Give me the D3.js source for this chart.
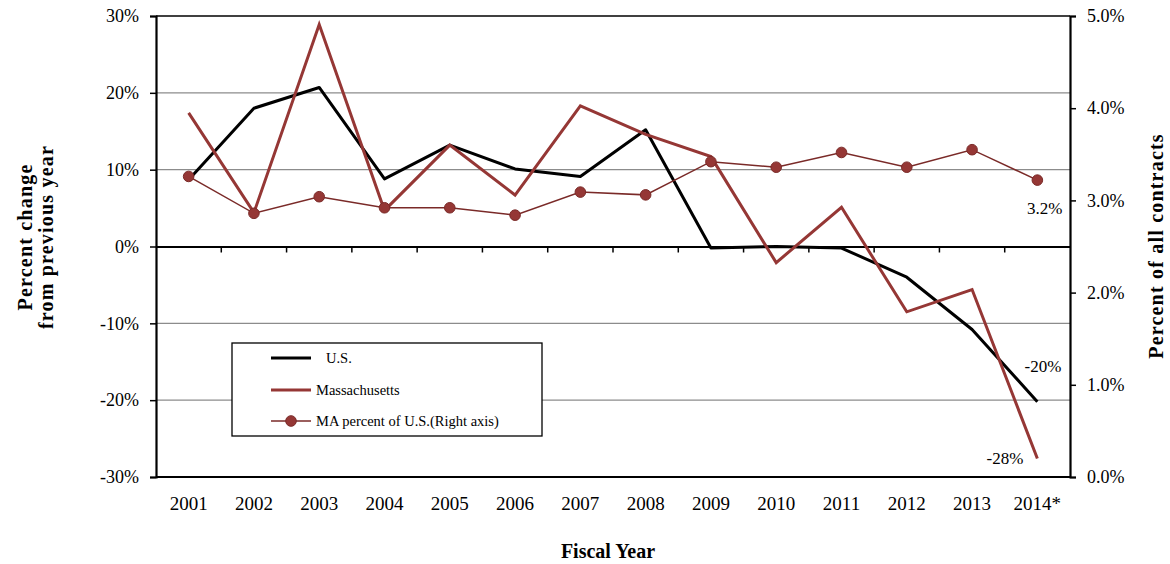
<!DOCTYPE html>
<html>
<head>
<meta charset="utf-8">
<script src="https://cdn.jsdelivr.net/npm/d3@7"></script>
<style>
  body { margin: 0; background: #fff; }
  svg, svg text { font-family: "Liberation Serif", "DejaVu Serif", serif; }
</style>
</head>
<body>
<svg id="chart"></svg>
<script>
// data
const years = ["2001","2002","2003","2004","2005","2006","2007","2008","2009","2010","2011","2012","2013","2014*"];
const usChange = [8.7, 18.0, 20.7, 8.8, 13.2, 10.1, 9.1, 15.2, -0.2, 0.0, -0.2, -4.0, -10.8, -20.2];
const maChange = [17.4, 4.4, 28.9, 4.7, 13.2, 6.7, 18.3, 14.6, 11.7, -2.1, 5.1, -8.5, -5.6, -27.6];
const maShare = [3.26, 2.86, 3.04, 2.92, 2.92, 2.84, 3.09, 3.06, 3.42, 3.36, 3.52, 3.36, 3.55, 3.22];
const leftTicks = [-30, -20, -10, 0, 10, 20, 30];
const rightTicks = [0, 1, 2, 3, 4, 5];
const legendItems = ["U.S.", "Massachusetts", "MA percent of U.S.(Right axis)"];

const red = "#953735";
const W = 1170, H = 564;
const margin = {top: 16, right: 100, bottom: 87, left: 156};
const width = W - margin.left - margin.right;
const height = H - margin.top - margin.bottom;

const svg = d3.select("#chart").attr("width", W).attr("height", H);
const g = svg.append("g").attr("transform", `translate(${margin.left},${margin.top})`);

const x = d3.scaleBand().domain(years).range([0, width]);
const xc = d => x(d) + x.bandwidth() / 2;
const yL = d3.scaleLinear().domain([-30, 30]).range([height, 0]);
const yR = d3.scaleLinear().domain([0, 5]).range([height, 0]);

// gridlines
g.append("g").selectAll("line")
    .data(leftTicks.filter(t => t !== 0 && Math.abs(t) !== 30))
    .enter().append("line")
    .attr("x1", 0).attr("x2", width)
    .attr("y1", d => yL(d)).attr("y2", d => yL(d))
    .attr("stroke", "#8c8c8c").attr("stroke-width", 1.3);

// frame top / bottom
g.append("line").attr("x1", 0).attr("x2", width).attr("y1", 0).attr("y2", 0)
    .attr("stroke", "#000").attr("stroke-width", 1.5);
g.append("line").attr("x1", 0).attr("x2", width).attr("y1", height).attr("y2", height)
    .attr("stroke", "#000").attr("stroke-width", 2);

// left axis
const leftAxis = g.append("g")
    .call(d3.axisLeft(yL).tickValues(leftTicks).tickFormat(d => d + "%").tickSize(6).tickPadding(11));
// right axis
const rightAxis = g.append("g").attr("transform", `translate(${width},0)`)
    .call(d3.axisRight(yR).tickValues(rightTicks).tickFormat(d => d.toFixed(1) + "%").tickSize(6).tickPadding(11));
// x axis on the zero line
const xAxis = g.append("g").attr("transform", `translate(0,${yL(0)})`)
    .call(d3.axisBottom(x).tickSize(0).tickFormat(""));
xAxis.selectAll(".tick").remove();
xAxis.append("g").selectAll("line")
    .data(years.slice(1))
    .enter().append("line")
    .attr("x1", d => x(d)).attr("x2", d => x(d))
    .attr("y1", 0).attr("y2", 6)
    .attr("stroke", "#000").attr("stroke-width", 1.5);

[leftAxis, rightAxis, xAxis].forEach(a => {
    a.attr("font-family", null).attr("font-size", null);
    a.select(".domain").attr("stroke", "#000").attr("stroke-width", 2.2);
    a.selectAll(".tick line").attr("stroke", "#000").attr("stroke-width", 1.5);
    a.selectAll(".tick text").attr("font-size", 18).attr("fill", "#000");
});

// year labels below plot
g.append("g").selectAll("text")
    .data(years)
    .enter().append("text")
    .attr("x", xc)
    .attr("y", height + 33)
    .attr("text-anchor", "middle")
    .attr("font-size", 19)
    .text(d => d);

// lines
const lineL = vals => d3.line().x((d, i) => xc(years[i])).y(d => yL(d))(vals);
g.append("path").attr("d", lineL(usChange))
    .attr("fill", "none").attr("stroke", "#000").attr("stroke-width", 3).attr("stroke-linejoin", "round");
g.append("path").attr("d", lineL(maChange))
    .attr("fill", "none").attr("stroke", red).attr("stroke-width", 3).attr("stroke-linejoin", "miter");

const lineR = d3.line().x((d, i) => xc(years[i])).y(d => yR(d));
g.append("path").attr("d", lineR(maShare))
    .attr("fill", "none").attr("stroke", "#7a2a28").attr("stroke-width", 1.5);
g.append("g").selectAll("circle")
    .data(maShare)
    .enter().append("circle")
    .attr("cx", (d, i) => xc(years[i]))
    .attr("cy", d => yR(d))
    .attr("r", 5.3)
    .attr("fill", red)
    .attr("stroke", "#7a2a28").attr("stroke-width", 1);

// end labels
const last = years.length - 1;
g.append("text")
    .attr("x", xc(years[last]) + 25).attr("y", yR(maShare[last]) + 34)
    .attr("text-anchor", "end").attr("font-size", 17)
    .text(maShare[last].toFixed(1) + "%");
g.append("text")
    .attr("x", xc(years[last]) + 24).attr("y", yL(usChange[last]) - 30)
    .attr("text-anchor", "end").attr("font-size", 17)
    .text(Math.round(usChange[last]) + "%");
g.append("text")
    .attr("x", xc(years[last]) - 14).attr("y", yL(maChange[last]) + 5)
    .attr("text-anchor", "end").attr("font-size", 17)
    .text(Math.round(maChange[last]) + "%");

// legend
const legend = svg.append("g").attr("transform", "translate(232,343)");
legend.append("rect").attr("width", 310).attr("height", 93)
    .attr("fill", "#fff").attr("stroke", "#000").attr("stroke-width", 1.3);
const legRows = [
    {y: 15, color: "#000", w: 3, tx: 94, marker: false},
    {y: 47, color: red, w: 3, tx: 84, marker: false},
    {y: 78, color: "#7a2a28", w: 1.5, tx: 84, marker: true}
];
legRows.forEach((r, i) => {
    legend.append("line").attr("x1", 39).attr("x2", 79).attr("y1", r.y).attr("y2", r.y)
        .attr("stroke", r.color).attr("stroke-width", r.w);
    if (r.marker) {
        legend.append("circle").attr("cx", 59).attr("cy", r.y).attr("r", 5.3)
            .attr("fill", red).attr("stroke", "#7a2a28");
    }
    legend.append("text").attr("x", r.tx).attr("y", r.y + 5)
        .attr("font-size", 14.5).text(legendItems[i]);
});

// axis titles
const title = (t, x0, y0, rot) => svg.append("text")
    .attr("transform", `translate(${x0},${y0})` + (rot ? " rotate(-90)" : ""))
    .attr("text-anchor", "middle").attr("font-size", 20).attr("font-weight", "bold")
    .attr("letter-spacing", rot ? 1.2 : 0)
    .text(t);
title("Percent change", 32, 237, true);
title("from previous year", 53, 237, true);
title("Percent of all contracts", 1163, 246, true);
title("Fiscal Year", 608, 558, false);
</script>
</body>
</html>
